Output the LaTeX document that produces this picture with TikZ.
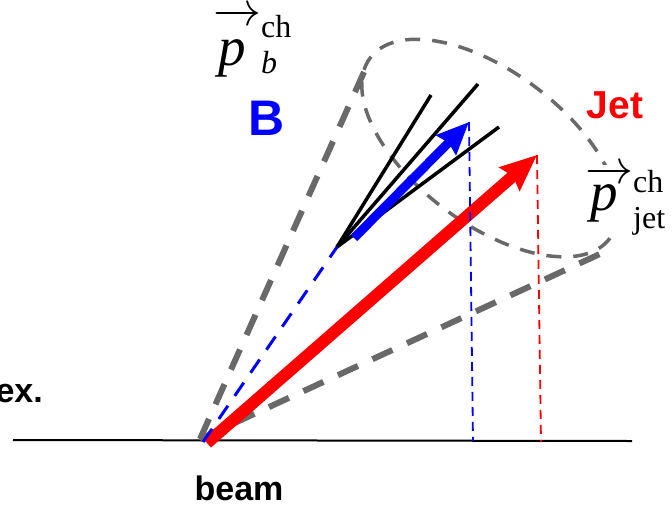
\documentclass[tikz,border=0pt]{standalone}
\usepackage{fix-cm}
\usepackage{amsmath}
\usepackage{fontspec}
\setmainfont{Liberation Serif}
\setsansfont{Liberation Sans}
\usetikzlibrary{arrows.meta}
\definecolor{cone}{RGB}{105,105,105}
\definecolor{bblue}{RGB}{0,0,255}
\definecolor{jred}{RGB}{255,0,0}
\DeclareMathSizes{48}{48}{32}{22}
\tikzset{
  coneline/.style={draw=cone,line width=6pt,dash pattern=on 22pt off 16pt},
  rimline/.style={draw=cone,line width=3.5pt,dash pattern=on 15pt off 12pt},
  track/.style={draw=black,line width=3.5pt},
  drop/.style={draw=#1,line width=1.8pt,dash pattern=on 9pt off 6pt},
  drop/.default=bblue,
  lbl/.style={font=\fontsize{#1}{#1}\selectfont\sffamily\bfseries,inner sep=0pt},
  lbl/.default=34,
  pv/.style={font=\fontsize{48}{50}\selectfont,inner sep=0pt},
}
% momentum vector with long arrow: #1 arrow height, #2/#3 shifts of sup/sub, #4 subscript
\newcommand\pch[4]{$\overrightarrow{\makebox[47pt][l]{\hspace{5pt}\fontsize{55}{55}\selectfont\itshape p\rule{0pt}{#1}}}^{\text{\raisebox{#2}{ch}}}_{\text{\raisebox{#3}{#4}}}$}

\begin{document}
\begin{tikzpicture}[x=1pt,y=-1pt]
  \useasboundingbox (0,0) rectangle (672,504);
  \coordinate (apex) at (200,439);
  \coordinate (bapex) at (203,442);
  \coordinate (cl) at (364,72);
  \coordinate (cr) at (602,253);
  \coordinate (ring) at (490,148);
  \coordinate (tv) at (337,247);
  \coordinate (t1) at (431,95);
  \coordinate (t2) at (478,84);
  \coordinate (t3) at (499,127);
  \coordinate (bs) at (354,238);
  \coordinate (bt) at (469,122);
  \coordinate (rs) at (207,443);
  \coordinate (rt) at (537,155);
  \coordinate (bl) at (13,440);
  \coordinate (br) at (632,441);
  \coordinate (bb) at (473,441);
  \coordinate (rb) at (541,442);

  % beam axis
  \draw[line width=2pt] (bl) -- (br);

  % cone and its rim
  \draw[coneline] (apex) -- (cl);
  \draw[coneline] (apex) -- (cr);
  \draw[rimline,rotate around={-37:(ring)}] (ring) ellipse (150 and 76);

  % tracks of the B decay
  \foreach \n in {t1,t2,t3} \draw[track] (tv) -- (\n);
  \draw[bblue,line width=9pt,-{Stealth[length=32pt,width=27pt,inset=3pt]}] (bs) -- (bt);
  \draw[jred,line width=12pt,-{Stealth[length=36pt,width=30pt,inset=4pt]}] (rs) -- (rt);
  \draw[bblue,line width=3pt,dash pattern=on 16pt off 12pt] (bapex) -- (tv);
  \draw[drop] (bt) -- (bb);
  \draw[drop=jred] (rt) -- (rb);

  \node[lbl] (ex) at (43,402) [anchor=base east] {ex.};
  \node[lbl] (beam) at (239,500) [anchor=base] {beam};
  \node[lbl=50,text=bblue] (B) at (267,135) [anchor=base] {B};
  \node[lbl=39,text=jred] (jet) at (615,118) [anchor=base] {Jet};
  \node[pv] (pb) at (213,65) [anchor=base west] {\pch{40pt}{10pt}{4pt}{\itshape b}};
  \node[pv,fill=white] (pj) at (585,210) [anchor=base west] {\pch{27pt}{0pt}{-7pt}{jet}};
\end{tikzpicture}
\end{document}
